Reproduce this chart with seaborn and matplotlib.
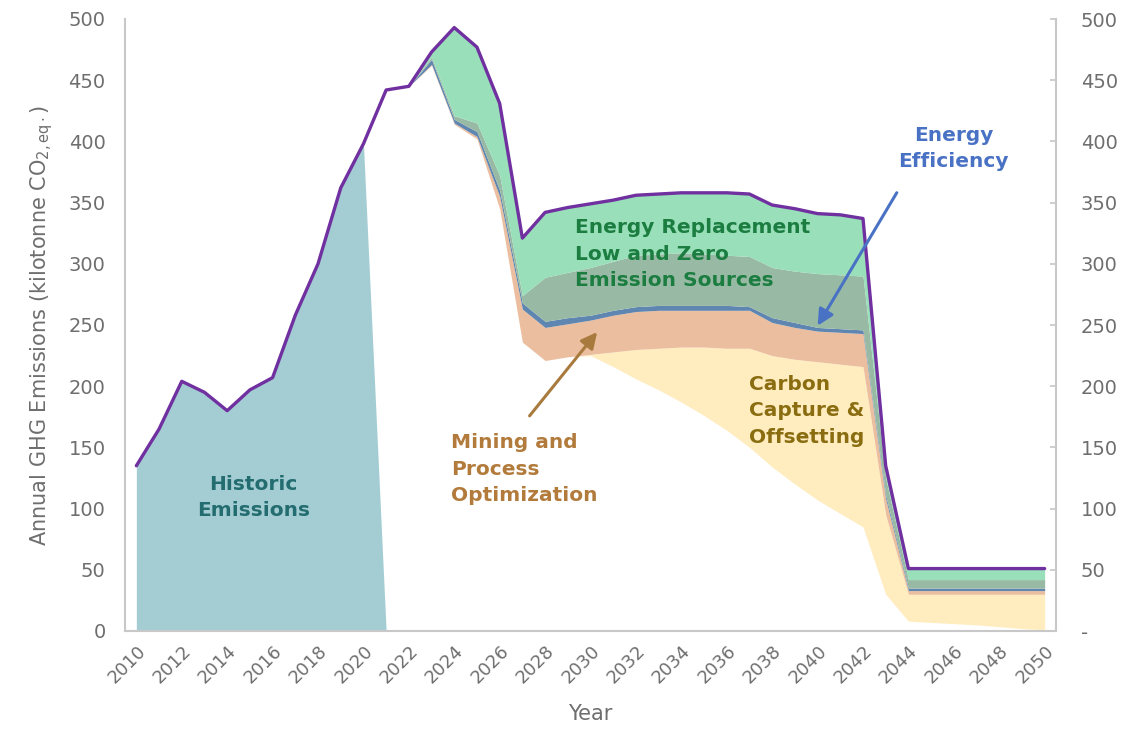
import numpy as np
import pandas as pd
import seaborn as sns
import matplotlib.pyplot as plt

# Years on the category axis
years = list(range(2010, 2051))

# Total emissions (purple line), kt CO2eq
total = [135, 165, 204, 195, 180, 197, 207, 258, 300, 362, 398,
         442, 445, 473, 493, 477, 431, 321, 342, 346, 349,
         352, 356, 357, 358, 358, 358, 357, 348, 345, 341,
         340, 337, 135, 51, 51, 51, 51, 51, 51, 51]

# Historic emissions (2010-2020), zero afterwards
historic = [135, 165, 204, 195, 180, 197, 207, 258, 300, 362, 398] + [0] * 30

# Stacked band tops, 2021-2050
residual_top = [442, 445, 462, 414, 402, 345, 236, 221, 224, 225,
                216, 206, 197, 187, 176, 164, 150, 134, 120, 107,
                96, 85, 30, 8, 7, 6, 5, 3.5, 2, 1]
capture_top = [442, 445, 462, 414, 402, 345, 236, 221, 224, 226,
               228, 230, 231, 232, 232, 231, 231, 225, 222, 220,
               218, 216, 95, 30, 30, 30, 30, 30, 30, 30]
mining_top = [442, 445, 463, 415, 404, 355, 263, 248, 251, 254,
              258, 261, 262, 262, 262, 262, 262, 252, 248, 245,
              244, 243, 108, 33, 33, 33, 33, 33, 33, 33]
efficiency_top = [442, 445, 467, 418, 408, 360, 268, 253, 256, 258,
                  262, 265, 266, 266, 266, 266, 265, 256, 252, 248,
                  247, 246, 111, 35, 35, 35, 35, 35, 35, 35]
low_emission_top = [442, 445, 469, 421, 415, 372, 274, 289, 293, 297,
                    302, 307, 308, 309, 308, 307, 306, 297, 294, 292,
                    291, 290, 125, 42, 42, 42, 42, 42, 42, 42]
zero_emission_top = total[11:]

fut_years = years[11:]
df = pd.DataFrame({"Year": years, "Total": total, "Historic": historic})

c_hist = "#A3CDD3"
c_cap = "#FFEDC0"
c_min = "#EBBE9F"
c_eff = "#5F86B0"
c_low = "#98B9A4"
c_zero = "#98DFBA"
c_line = "#7030A0"
grey = "#6E6E6E"

sns.set_theme(style="white")
plt.rcParams["font.family"] = ["DejaVu Sans"]

fig = plt.figure(figsize=(11.32, 7.41), dpi=100)
ax = fig.add_axes([125 / 1132, 1 - 631 / 741, (1056 - 125) / 1132, (631 - 19) / 741])

# historic area: 2010-2021 so it slopes to zero at 2021
ax.fill_between(years[:12], 0, historic[:12], color=c_hist, lw=0)
ax.fill_between(fut_years, residual_top, capture_top, color=c_cap, lw=0)
ax.fill_between(fut_years, capture_top, mining_top, color=c_min, lw=0)
ax.fill_between(fut_years, mining_top, efficiency_top, color=c_eff, lw=0)
ax.fill_between(fut_years, efficiency_top, low_emission_top, color=c_low, lw=0)
ax.fill_between(fut_years, low_emission_top, zero_emission_top, color=c_zero, lw=0)

sns.lineplot(data=df, x="Year", y="Total", color=c_line, lw=2.4, ax=ax)

ax.set_xlim(2009.5, 2050.5)
ax.set_ylim(0, 500)
ax.set_xticks(range(2010, 2051, 2))
ax.set_xticklabels([str(y) for y in range(2010, 2051, 2)], rotation=45,
                   ha="right", rotation_mode="anchor", fontsize=13, color=grey)
ax.set_yticks(range(0, 501, 50))
ax.tick_params(axis="y", length=0, labelsize=14, labelcolor=grey, pad=14)
ax.tick_params(axis="x", length=0, pad=8)
ax.set_xlabel("Year", fontsize=15, color=grey, labelpad=12)
ax.set_ylabel(r"Annual GHG Emissions (kilotonne CO$_{\mathregular{2,eq\cdot}}$)",
              fontsize=15, color=grey, labelpad=10)
for s in ["top", "right"]:
    ax.spines[s].set_visible(False)
for s in ["left", "bottom"]:
    ax.spines[s].set_color("#C8C8C8")
    ax.spines[s].set_linewidth(1.5)

ax2 = ax.twinx()
ax2.set_ylim(0, 500)
ax2.set_yticks(range(0, 501, 50))
ax2.set_yticklabels(["-"] + [str(v) for v in range(50, 501, 50)])
ax2.tick_params(axis="y", direction="in", length=4, color="#C8C8C8",
                labelsize=14, labelcolor=grey, pad=18)
for s in ["top", "left", "bottom"]:
    ax2.spines[s].set_visible(False)
ax2.spines["right"].set_color("#C8C8C8")
ax2.spines["right"].set_linewidth(1.5)

# labels
kw = dict(fontsize=14.5, fontweight="bold", linespacing=1.5, va="center")
ax.text(2015.16, 109, "Historic\nEmissions", color="#236C70", ha="center", **kw)
ax.text(2029.3, 308, "Energy Replacement\nLow and Zero\nEmission Sources",
        color="#1B7D3F", ha="left", **kw)
ax.text(2023.85, 132, "Mining and\nProcess\nOptimization", color="#B27B3C", ha="left", **kw)
ax.text(2036.98, 180, "Carbon\nCapture &\nOffsetting", color="#8A6D10", ha="left", **kw)
ax.text(2045.98, 394, "Energy\nEfficiency", color="#4A72C4", ha="center", **kw)

ax.annotate("", xy=(2030.37, 246), xytext=(2027.24, 174),
            arrowprops=dict(arrowstyle="-|>,head_length=0.8,head_width=0.4",
                            color="#A97A3E", lw=2.2))
ax.annotate("", xy=(2039.94, 247.5), xytext=(2043.55, 360),
            arrowprops=dict(arrowstyle="-|>,head_length=0.8,head_width=0.4",
                            color="#4A72C4", lw=2.2))

fig.savefig("out.png", dpi=100)
